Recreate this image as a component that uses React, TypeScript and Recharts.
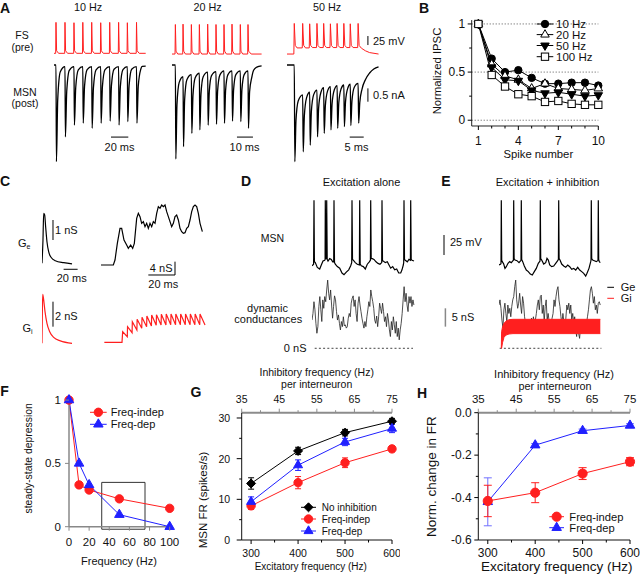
import React from "react";
import {
  LineChart,
  AreaChart,
  Line,
  Area,
  XAxis,
  YAxis,
  ReferenceLine,
  ReferenceArea,
  ErrorBar,
} from "recharts";

const FONT = '"Liberation Sans", Arial, Helvetica, sans-serif';
const RED = "#ff1f1f";
const BLUE = "#2020ff";

// ---------- A: FS -> MSN pairs (time ms, FS mV, MSN nA)
const fsTimes10 = [2.3, 12.7, 23.1, 33.3, 43.6, 54.0, 64.4, 74.7, 84.8, 95.4];
const fsTimes20 = [2.1, 6.9, 12.1, 17.1, 22.3, 27.5, 32.5, 37.5, 42.7, 47.5];
const fsTimes50 = [2.6, 5.6, 8.1, 10.7, 13.1, 15.5, 17.9, 20.3, 22.6, 25.4];
const fsPeak10 = [16, 16, 15, 16, 16, 15, 16, 16, 15, 16];
const fsPeak20 = [10, 11, 10, 10, 11, 10, 10, 11, 10, 10];
const fsPeak50 = [13, 13, 12, 13, 13, 12, 13, 13, 12, 13];
const fsPre10 = [-70, -70, -70, -70, -70, -70, -70, -70, -70, -70];
const fsPre20 = [-72, -72, -72, -72, -72, -72, -72, -72, -72, -72];
const fsPre50 = [-72, -55, -55, -54, -54, -54, -54, -54, -54, -54];
const fsTail10 = [[98.5, -70], [106, -70]];
const fsTail20 = [[49.5, -72], [56, -72]];
const fsTail50 = [[26.6, -56], [28, -63], [29.5, -68], [32.7, -72]];

const ipscMin10 = [-3.62, -2.69, -2.25, -2.18, -2.37, -2.18, -2.1, -2.25, -2.12, -2.18];
const ipscMid10 = [-1.3, -1.0, -0.85, -0.8, -0.85, -0.8, -0.78, -0.82, -0.78, -0.8];
const ipscLate10 = [-0.25, -0.2, -0.18, -0.17, -0.18, -0.17, -0.16, -0.17, -0.16, -0.15];
const ipscRec10 = [-0.06, -0.06, -0.06, -0.06, -0.06, -0.06, -0.06, -0.06, -0.06];
const ipscTail10 = [[102, -0.05], [106, -0.04]];

const ipscMin20 = [-3.52, -3.06, -2.56, -2.43, -2.25, -2.22, -2.18, -2.1, -2.12, -2.37];
const ipscMid20 = [-1.5, -1.3, -1.15, -1.1, -1.0, -0.98, -0.95, -0.93, -0.93, -1.0];
const ipscLate20 = [-0.65, -0.55, -0.48, -0.44, -0.4, -0.38, -0.37, -0.36, -0.36, -0.45];
const ipscRec20 = [-0.44, -0.36, -0.31, -0.27, -0.25, -0.22, -0.22, -0.22, -0.22];
const ipscTail20 = [[51, -0.2], [53, -0.08], [56, -0.03]];

const ipscMin50 = [-3.62, -3.25, -3.0, -2.69, -2.56, -2.43, -2.37, -2.31, -2.27, -2.18];
const ipscMid50 = [-2.1, -1.9, -1.75, -1.6, -1.52, -1.46, -1.42, -1.38, -1.35, -1.4];
const ipscLate50 = [-1.35, -1.22, -1.12, -1.03, -0.97, -0.93, -0.9, -0.87, -0.84, -0.9];
const ipscRec50 = [-1.12, -1.02, -0.94, -0.85, -0.81, -0.77, -0.75, -0.72, -0.69];
const ipscTail50 = [[28, -0.55], [29.5, -0.3], [31, -0.15], [32.7, -0.07]];

// ---------- B: normalized IPSC vs spike number
const spikeNumber = [1, 2, 3, 4, 5, 6, 7, 8, 9, 10];
const ipsc10Hz = [1, 0.64, 0.5, 0.52, 0.44, 0.38, 0.38, 0.39, 0.39, 0.36];
const ipsc20Hz = [1, 0.58, 0.46, 0.42, 0.33, 0.38, 0.33, 0.32, 0.31, 0.33];
const ipsc50Hz = [1, 0.55, 0.42, 0.41, 0.31, 0.28, 0.29, 0.27, 0.25, 0.26];
const ipsc100Hz = [1, 0.47, 0.35, 0.27, 0.25, 0.19, 0.2, 0.17, 0.16, 0.16];

// ---------- C: conductance waveforms (ms, nS)
const geUnitary = [[0, 0], [1.4, 1.17], [2.4, 2.5], [3.8, 2.42], [5.2, 1.83], [7.1, 1.08], [9.5, 0.58], [12.9, 0.3], [19, 0.13], [31, 0.03], [42.9, -0.03]];
const giUnitary = [[0, 0], [0.5, 2.4], [1, 3.92], [2.4, 3.47], [4.3, 2.53], [7.1, 1.6], [11, 0.93], [16.7, 0.48], [26.2, 0.19], [42.9, 0]];
const geSummed = [
  [0, 0], [9.25, 0], [10.5, 1.5], [12.25, 6.5], [14.25, 11], [15.5, 11], [17.25, 7.5], [19.25, 6], [20.5, 5],
  [22.25, 6], [23.75, 5], [25, 6.5], [26.75, 14], [28, 15.5], [29.25, 14.5], [30.5, 12.5], [31.75, 13], [33, 11.5],
  [34.25, 12.5], [35.5, 11], [36.75, 12.5], [38, 11.5], [39.25, 13], [40.5, 12.5], [41.75, 15.5], [43, 17.5],
  [44.25, 17], [45.5, 18], [46.75, 17.5], [48, 18], [49.25, 16], [50.5, 14.5], [51.75, 13], [53, 11.5], [54.25, 12.5],
  [55.5, 14.5], [56.75, 15], [58, 13.5], [59.25, 11], [60.5, 10], [61.75, 9.5], [63, 9.7], [64.25, 11], [65.5, 11.5],
  [66.75, 13.5], [68, 16], [69.25, 17.5], [70.5, 18], [71.75, 17.5], [73, 15.5], [74.25, 12.5], [76, 10],
];
const giSummed = [
  [2.5, 0], [15.75, 0], [16.25, 3.2], [19.7, 1.7], [19.9, 4.7], [23.3, 2.9], [23.5, 6.2], [26.9, 3.7], [27.1, 6.9],
  [30.55, 4.2], [30.75, 7.5], [34.2, 4.7], [34.4, 7.9], [37.8, 4.9], [38, 8.2], [41.4, 5.1], [41.6, 8.3], [45.05, 5.2],
  [45.25, 8.4], [48.7, 5.2], [48.9, 8.5], [52.3, 5.3], [52.5, 8.5], [55.9, 5.3], [56.1, 8.5], [59.55, 5.3], [59.75, 8.5],
  [63.2, 5.3], [63.4, 8.5], [66.8, 5.3], [67, 8.5], [70.4, 5.3], [70.6, 8.5], [74.05, 5.3], [74.25, 8.5], [78, 5.2],
];

// ---------- D / E: dynamic clamp (ms, mV, nS)
const dMsnVm = [
  [0, -71], [1.6, -69], [2, 11], [2.4, -66], [3.3, -67], [5.3, -73], [7.7, -75], [9.3, -70], [11, -65], [12.7, -64],
  [13.1, -63], [13.3, 11], [13.8, -62], [14.4, -62], [14.7, 11], [15.2, -63], [16, -65], [17.7, -62], [19.3, -63],
  [20.7, -66], [21.7, -66], [22, 11], [22.5, -67], [23.3, -69], [25.3, -72], [27.7, -74], [30, -80], [32, -82],
  [34.3, -79], [36.7, -76], [38.7, -71], [39.7, -67], [40, 11], [40.5, -63], [41.3, -64], [43.3, -67], [45.3, -69],
  [47.4, -70], [47.7, 11], [48.2, -69], [49.3, -71], [51.3, -72], [53.3, -75], [55.3, -69], [57.3, -66], [58.4, -64],
  [58.7, 11], [59.2, -62], [60.3, -62], [62, -63], [64, -66], [66, -68], [68, -69], [69.7, -67], [70, 11], [70.5, -65],
  [71.3, -65], [73.3, -67], [75.3, -66], [77, -70], [78.7, -74], [80.7, -72], [82.7, -76], [84.7, -75], [86.7, -80],
  [88.7, -80], [90, -76], [91.3, -70], [91.7, -67], [92, 11], [92.5, -63], [93.3, -64], [95.3, -66], [97, -63],
  [98.4, -64], [98.7, 11], [99.2, -63], [100, -64], [102, -65],
];
const dGe = [
  7.7, 9.5, 12.7, 10.5, 6.8, 4.1, 5.9, 11.4, 14.1, 10.5, 7.3, 13.2, 10.9, 14.1, 12.7, 15.9, 18.6, 15.0, 13.2, 15.9,
  11.8, 8.2, 11.4, 14.3, 13.2, 10.0, 7.7, 9.1, 6.8, 5.0, 7.3, 5.9, 8.6, 6.1, 6.4, 5.5, 5.9, 8.2, 9.5, 8.6,
  12.3, 13.6, 14.3, 11.4, 13.2, 9.5, 7.3, 12.3, 14.1, 11.8, 10.0, 8.2, 6.8, 5.5, 7.3, 5.9, 8.6, 10.5, 12.7, 11.4,
  15.9, 14.1, 12.7, 10.9, 7.7, 6.8, 8.8, 5.9, 8.6, 12.3, 10.9, 9.5, 12.3, 10.0, 7.3, 8.6, 5.9, 9.5, 7.7, 5.0,
  3.2, 7.3, 5.0, 8.6, 6.4, 4.1, 7.3, 3.2, 5.5, 2.3, 5.0, 6.8, 9.5, 13.2, 16.8, 12.7, 15.0, 11.8, 10.0, 14.1,
  12.3, 14.1, 11.4, 13.2, 11.8,
];
const eMsnVm = [
  [0, -70], [1.7, -68.8], [2, -68], [2.3, 11], [2.7, -64], [3.3, -65.8], [4.7, -68.8], [6, -74.2], [7.3, -72.1],
  [9, -67.9], [10.7, -65.8], [12.3, -67.1], [14, -64.6], [14.4, -64], [14.7, 11], [15.1, -62], [16, -63.8], [18, -64.6],
  [20, -67.1], [21.7, -64.6], [22, -64], [22.3, 11], [22.7, -63], [23.7, -65.8], [25.3, -71.3], [27.3, -76.3],
  [29.3, -78.3], [31.3, -81.3], [33.3, -82.5], [35.3, -78.3], [37.3, -74.2], [39.3, -67.9], [41, -65], [41.3, 11],
  [41.7, -62], [42.7, -63.8], [44.7, -68.8], [46.7, -67.1], [48, -61.7], [49.3, -63.8], [50.7, -70], [52.7, -72.1],
  [54.7, -71.3], [56.7, -67.9], [58.7, -64.6], [59.4, -63], [59.7, 11], [60.1, -62], [61, -63.8], [62.7, -68.8],
  [64.7, -71.3], [66.7, -72.9], [68.7, -70], [70.7, -72.1], [72.7, -75.4], [74.7, -74.2], [76.7, -76.3], [78.7, -72.9],
  [80.7, -76.3], [82.7, -78.3], [84.7, -80.4], [86.7, -83.8], [88, -80.4], [90, -74.2], [91.7, -65.8], [92, -64],
  [92.3, 11], [92.7, -62], [93.7, -63.8], [95.3, -64.6], [97.3, -65.8], [98.7, -64.6], [99, -64], [99.3, 11],
  [99.7, -63], [100.3, -65.8], [101.3, -67.1],
];
const eGe = [
  11.8, 13.2, 10.9, 7.7, 5.5, 10.5, 12.3, 9.5, 7.3, 11.8, 9.5, 10.9, 8.6, 11.4, 13.2, 14.1, 16.8, 18.6, 13.2, 10.9,
  12.3, 15.0, 11.8, 9.5, 14.1, 12.3, 8.6, 6.8, 7.7, 5.9, 4.5, 7.3, 5.9, 8.2, 6.8, 8.6, 6.8, 7.7, 9.5, 11.8,
  13.2, 10.5, 14.1, 14.5, 9.5, 11.8, 7.3, 11.4, 13.2, 7.7, 9.5, 7.3, 5.9, 6.8, 8.2, 9.5, 13.2, 11.4, 14.1, 15.9,
  16.8, 13.2, 11.4, 8.6, 6.8, 9.5, 7.3, 5.5, 8.2, 11.8, 10.5, 12.3, 9.5, 11.8, 7.7, 9.5, 6.8, 8.6, 5.0, 3.2,
  6.8, 4.1, 2.7, 5.9, 4.1, 6.8, 4.5, 7.3, 5.0, 6.8, 8.6, 10.5, 13.2, 15.9, 16.8, 15.0, 12.3, 14.1, 10.5, 11.8,
  9.5, 12.3, 12.7, 11.8,
];
// Gi drawn as its fast-oscillation envelope [t, low, high]
const eGiBand = [[2.3, 0, 0], [2.6, 0, 4.5], [3.5, 1.5, 5.8], [5, 3, 6.8], [7, 3.6, 7.4], [10, 3.9, 7.8], [14, 4, 7.9], [101.3, 4, 7.9]];

// ---------- F: steady-state depression
const fFreq = [0, 10, 20, 50, 100];
const fIndep = [1, 0.33, 0.29, 0.22, 0.145];
const fDep = [1, 0.5, 0.33, 0.095, 0];

// ---------- G / H: model firing
const excFreq = [300, 400, 500, 600];
const inhFreq = [37.5, 50, 62.5, 75]; // per interneuron, top axis
const gNoInh = [13.9, 21.9, 26.4, 29.2];
const gNoInhErr = [1.4, 0.9, 0.8, 0.7];
const gIndep = [8.4, 14.1, 19.0, 22.4];
const gIndepErr = [0.9, 1.5, 1.2, 0.7];
const gDep = [9.4, 18.4, 24.1, 27.4];
const gDepErr = [1.2, 1.3, 0.9, 1.0];
const hIndep = [-0.416, -0.377, -0.287, -0.231];
const hIndepErr = [0.074, 0.047, 0.028, 0.019];
const hDep = [-0.42, -0.153, -0.085, -0.06];
const hDepErr = [0.113, 0.008, 0.008, 0.008];
const inhTicks = [35, 40, 45, 50, 55, 60, 65, 70, 75];
const excTicks = [300, 350, 400, 450, 500, 550, 600];

type P = { t: number; v: number };
const pts = (a: number[][]): P[] => a.map(([t, v]) => ({ t, v }));
const sampled = (vals: number[], dt: number): P[] => vals.map((v, i) => ({ t: i * dt, v }));

const fsTrace = (times: number[], peaks: number[], pre: number[], hump: number, tail: number[][], d: number[]) => {
  const out: P[] = [{ t: 0, v: pre[0] }];
  times.forEach((t, i) => {
    out.push({ t: t - d[0], v: pre[i] });
    out.push({ t, v: peaks[i] });
    out.push({ t: t + d[1], v: hump });
    if (i + 1 < times.length) out.push({ t: t + d[2], v: pre[i + 1] });
  });
  return out.concat(pts(tail));
};

const ipscTrace = (times: number[], mins: number[], mids: number[], lates: number[], recs: number[], tail: number[][], d: number[]) => {
  const out: P[] = [{ t: 0, v: 0 }];
  times.forEach((t, i) => {
    out.push({ t, v: i === 0 ? 0 : recs[i - 1] });
    out.push({ t: t + d[0], v: mins[i] });
    out.push({ t: t + d[1], v: mids[i] });
    out.push({ t: t + d[2], v: lates[i] });
  });
  return out.concat(pts(tail));
};

type TLine = { data: P[]; axis: string; color: string; w: number; curve?: "linear" | "monotone" };
type TBar = { axis: string; a: number[]; b: number[]; color?: string; dash?: string; w?: number };

function Trace({ x, y, w, h, xMax, axes, lines, bars = [] }: { x: number; y: number; w: number; h: number; xMax: number; axes: { id: string; domain: number[] }[]; lines: TLine[]; bars?: TBar[] }) {
  return (
    <div style={{ position: "absolute", left: x, top: y }}>
      <LineChart width={w} height={h} margin={{ top: 0, right: 0, bottom: 0, left: 0 }}>
        <XAxis type="number" dataKey="t" domain={[0, xMax]} hide allowDataOverflow />
        {axes.map((a) => (
          <YAxis key={a.id} yAxisId={a.id} type="number" domain={a.domain} hide allowDataOverflow />
        ))}
        {lines.map((l, i) => (
          <Line key={i} data={l.data} dataKey="v" yAxisId={l.axis} type={l.curve ?? "linear"} stroke={l.color} strokeWidth={l.w} dot={false} activeDot={false} isAnimationActive={false} />
        ))}
        {bars.map((b, i) => (
          <ReferenceLine key={`bar${i}`} yAxisId={b.axis} segment={[{ x: b.a[0], y: b.a[1] }, { x: b.b[0], y: b.b[1] }]} stroke={b.color ?? "#000"} strokeWidth={b.w ?? 1} strokeDasharray={b.dash} ifOverflow="visible" />
        ))}
      </LineChart>
    </div>
  );
}

// ---------- ticks, markers
type TickCfg = { major: number[]; len?: number; minor?: number; off: number; size: number; fmt?: (v: number) => string; stroke?: string };
const near = (a: number[], v: number) => a.some((m) => Math.abs(m - v) < 1e-6);
const makeTick = (side: "bottom" | "top" | "left", c: TickCfg) => (p: any) => {
  const v = Number(p.payload.value);
  const big = near(c.major, v);
  const L = big ? c.len ?? 4 : c.minor ?? 2.5;
  const s = c.stroke ?? "#000";
  const label = c.fmt ? c.fmt(v) : String(v);
  const txt = { fontSize: c.size, fontFamily: FONT, fill: "#111", dominantBaseline: "central" as const };
  if (side === "left") {
    return (
      <g>
        <line x1={p.x} y1={p.y} x2={p.x - L} y2={p.y} stroke={s} />
        {big && <text x={p.x - c.off} y={p.y} textAnchor="end" {...txt}>{label}</text>}
      </g>
    );
  }
  const dir = side === "bottom" ? 1 : -1;
  return (
    <g>
      <line x1={p.x} y1={p.y} x2={p.x} y2={p.y + dir * L} stroke={s} />
      {big && <text x={p.x} y={p.y + dir * c.off} textAnchor="middle" {...txt}>{label}</text>}
    </g>
  );
};

type Shape = (x: number, y: number) => React.ReactElement;
const circle = (r: number, fill: string, stroke = fill): Shape => (x, y) => <circle cx={x} cy={y} r={r} fill={fill} stroke={stroke} strokeWidth={1} />;
const triangle = (w: number, fill: string, stroke: string, down = false): Shape => (x, y) => {
  const h = w * 0.866;
  const s = down ? -1 : 1;
  return <polygon points={`${x},${y - (s * 2 * h) / 3} ${x - w / 2},${y + (s * h) / 3} ${x + w / 2},${y + (s * h) / 3}`} fill={fill} stroke={stroke} strokeWidth={1} strokeLinejoin="round" />;
};
const square = (s: number, fill: string, stroke: string): Shape => (x, y) => <rect x={x - s / 2} y={y - s / 2} width={s} height={s} fill={fill} stroke={stroke} strokeWidth={1} />;
const diamond = (s: number, fill: string): Shape => (x, y) => <polygon points={`${x},${y - s} ${x + s},${y} ${x},${y + s} ${x - s},${y}`} fill={fill} stroke={fill} />;
const dotOf = (shape: Shape) => (p: any) => <g key={`dot-${p.index}`}>{p.cx == null || p.cy == null ? null : shape(p.cx, p.cy)}</g>;

const T = ({ x, y, children, size = 11, anchor = "start", rotate, bold }: { x: number; y: number; children: React.ReactNode; size?: number; anchor?: "start" | "middle" | "end"; rotate?: number; bold?: boolean }) => (
  <text x={x} y={y} fontSize={size} textAnchor={anchor} dominantBaseline="central" fontFamily={FONT} fontWeight={bold ? 700 : 400} fill="#111" transform={rotate ? `rotate(${rotate} ${x} ${y})` : undefined}>
    {children}
  </text>
);

const LegendRow = ({ x1, x2, y, color, shape, label, tx, size }: { x1: number; x2: number; y: number; color: string; shape: Shape; label: string; tx: number; size: number }) => (
  <g>
    <line x1={x1} x2={x2} y1={y} y2={y} stroke={color} strokeWidth={1} />
    {shape((x1 + x2) / 2, y)}
    <T x={tx} y={y} size={size}>{label}</T>
  </g>
);

// shared vertical mapping for panel A columns
const FS_AXIS = { id: "fs", domain: [-388.6, 28.1] };
const MSN_AXIS = { id: "msn", domain: [-3.858, 1.76] };

export default function App() {
  const bData = spikeNumber.map((n, i) => ({ n, f10: ipsc10Hz[i], f20: ipsc20Hz[i], f50: ipsc50Hz[i], f100: ipsc100Hz[i] }));
  const fData = fFreq.map((f, i) => ({ f, indep: fIndep[i], dep: fDep[i] }));
  const gData = excFreq.map((x, i) => ({ x, inh: inhFreq[i], none: gNoInh[i], noneErr: gNoInhErr[i], indep: gIndep[i], indepErr: gIndepErr[i], dep: gDep[i], depErr: gDepErr[i] }));
  const hData = excFreq.map((x, i) => ({ x, inh: inhFreq[i], indep: hIndep[i], indepErr: hIndepErr[i], dep: hDep[i], depErr: hDepErr[i] }));
  const giBandData = eGiBand.map(([t, lo, hi]) => ({ t, band: [lo, hi] }));

  return (
    <div style={{ position: "absolute", left: 0, top: 0, width: 640, height: 574, background: "#fff", overflow: "hidden", fontFamily: FONT }}>
      {/* A */}
      <Trace x={54} y={18} w={92} h={150} xMax={106.36} axes={[FS_AXIS, MSN_AXIS]}
        lines={[
          { data: fsTrace(fsTimes10, fsPeak10, fsPre10, -63, fsTail10, [0.35, 0.7, 3]), axis: "fs", color: RED, w: 1 },
          { data: ipscTrace(fsTimes10, ipscMin10, ipscMid10, ipscLate10, ipscRec10, ipscTail10, [0.5, 2, 5]), axis: "msn", color: "#000", w: 1.3, curve: "monotone" },
        ]}
        bars={[{ axis: "msn", a: [65.9, -2.7], b: [85.9, -2.7] }]} />
      <Trace x={171.7} y={18} w={90} h={150} xMax={56.25} axes={[FS_AXIS, MSN_AXIS]}
        lines={[
          { data: fsTrace(fsTimes20, fsPeak20, fsPre20, -64, fsTail20, [0.2, 0.4, 1.5]), axis: "fs", color: RED, w: 1 },
          { data: ipscTrace(fsTimes20, ipscMin20, ipscMid20, ipscLate20, ipscRec20, ipscTail20, [0.3, 1, 2.4]), axis: "msn", color: "#000", w: 1.3, curve: "monotone" },
        ]}
        bars={[{ axis: "msn", a: [40.6, -2.7], b: [50.6, -2.7] }]} />
      <Trace x={286.7} y={18} w={92} h={150} xMax={32.86} axes={[FS_AXIS, MSN_AXIS]}
        lines={[
          { data: fsTrace(fsTimes50, fsPeak50, fsPre50, -48, fsTail50, [0.15, 0.35, 1.0]), axis: "fs", color: RED, w: 1 },
          { data: ipscTrace(fsTimes50, ipscMin50, ipscMid50, ipscLate50, ipscRec50, ipscTail50, [0.2, 0.6, 1.4]), axis: "msn", color: "#000", w: 1.3, curve: "monotone" },
        ]}
        bars={[
          { axis: "msn", a: [22.4, -2.7], b: [27.4, -2.7] },
          { axis: "fs", a: [28.9, -47], b: [28.9, -22] },
          { axis: "msn", a: [28.9, -1.375], b: [28.9, -0.875] },
        ]} />

      {/* B */}
      <div style={{ position: "absolute", left: 420, top: 0 }}>
        <LineChart width={198.3} height={158} data={bData} margin={{ top: 20.1, right: 20, bottom: 12, left: 21.7 }}>
          <XAxis type="number" dataKey="n" domain={[0.5, 10]} ticks={spikeNumber} interval={0} tickSize={0} tickMargin={0} tickLine={false} height={20}
            axisLine={{ stroke: "#222" }} tick={makeTick("bottom", { major: [1, 4, 7, 10], off: 15.5, size: 12 })} />
          <YAxis type="number" domain={[-0.06, 1.04]} ticks={[0, 0.25, 0.5, 0.75, 1]} interval={0} tickSize={0} tickMargin={0} tickLine={false} width={30}
            axisLine={{ stroke: "#222" }} tick={makeTick("left", { major: [0, 0.5, 1], off: 6.5, size: 12 })} />
          {[0, 0.5, 1].map((v) => (
            <ReferenceLine key={v} y={v} stroke="#555" strokeDasharray="1 2" />
          ))}
          <Line dataKey="f10" stroke="#000" strokeWidth={1} dot={dotOf(circle(3.7, "#000"))} activeDot={false} isAnimationActive={false} />
          <Line dataKey="f20" stroke="#000" strokeWidth={1} dot={dotOf(triangle(8.5, "#fff", "#000"))} activeDot={false} isAnimationActive={false} />
          <Line dataKey="f50" stroke="#000" strokeWidth={1} dot={dotOf(triangle(8.5, "#000", "#000", true))} activeDot={false} isAnimationActive={false} />
          <Line dataKey="f100" stroke="#000" strokeWidth={1} dot={dotOf(square(7.3, "#fff", "#000"))} activeDot={false} isAnimationActive={false} />
        </LineChart>
      </div>

      {/* C */}
      <Trace x={41.7} y={205} w={36.4} h={80} xMax={52} axes={[{ id: "ns", domain: [-1.085, 2.915] }]}
        lines={[{ data: pts(geUnitary), axis: "ns", color: "#000", w: 1.2, curve: "monotone" }]}
        bars={[{ axis: "ns", a: [15.7, 1.165], b: [15.7, 2.165] }, { axis: "ns", a: [30.9, -0.3], b: [50.9, -0.3] }]} />
      <Trace x={41.7} y={290} w={36.4} h={60} xMax={52} axes={[{ id: "ns", domain: [-0.536, 4.264] }]}
        lines={[{ data: pts(giUnitary), axis: "ns", color: RED, w: 1.2, curve: "monotone" }]}
        bars={[{ axis: "ns", a: [15.7, 1.33], b: [15.7, 3.33] }]} />
      <Trace x={101} y={200} w={106.7} h={80} xMax={80} axes={[{ id: "ns", domain: [-4.5, 19.5] }]}
        lines={[{ data: pts(geSummed), axis: "ns", color: "#000", w: 1.2 }]}
        bars={[{ axis: "ns", a: [55.5, -3], b: [55.5, 1] }, { axis: "ns", a: [35.5, -3], b: [55.5, -3] }]} />
      <Trace x={101} y={305} w={106.7} h={45} xMax={80} axes={[{ id: "ns", domain: [-2.31, 11.2] }]}
        lines={[{ data: pts(giSummed), axis: "ns", color: RED, w: 1.2 }]} />

      {/* D */}
      <Trace x={312.3} y={195} w={140} h={160} xMax={140} axes={[{ id: "mv", domain: [-182.5, 17.5] }, { id: "ns", domain: [-1.83, 41.8] }]}
        lines={[
          { data: pts(dMsnVm), axis: "mv", color: "#000", w: 1.2 },
          { data: sampled(dGe, 0.98), axis: "ns", color: "#222", w: 0.8 },
        ]}
        bars={[
          { axis: "ns", a: [2.7, 0], b: [101, 0], dash: "2 2.2", color: "#444" },
          { axis: "mv", a: [132, -57.5], b: [132, -32.5] },
          { axis: "ns", a: [133.4, 5.9], b: [133.4, 10.9], color: "#888", w: 1.5 },
        ]} />

      {/* E */}
      <Trace x={499.3} y={195} w={104} h={160} xMax={104} axes={[{ id: "mv", domain: [-182.5, 17.5] }, { id: "ns", domain: [-1.83, 41.8] }]}
        lines={[
          { data: pts(eMsnVm), axis: "mv", color: "#000", w: 1.2 },
          { data: sampled(eGe, 0.983), axis: "ns", color: "#222", w: 0.8 },
        ]}
        bars={[{ axis: "ns", a: [0.7, 0], b: [102.4, 0], dash: "2 2.2", color: "#444" }]} />
      <div style={{ position: "absolute", left: 499.3, top: 195 }}>
        <AreaChart width={104} height={160} margin={{ top: 0, right: 0, bottom: 0, left: 0 }}>
          <XAxis type="number" dataKey="t" domain={[0, 104]} hide allowDataOverflow />
          <YAxis yAxisId="ns" type="number" domain={[-1.83, 41.8]} hide allowDataOverflow />
          <Area data={giBandData} dataKey="band" yAxisId="ns" type="linear" stroke={RED} strokeWidth={1} fill={RED} fillOpacity={1} dot={false} activeDot={false} isAnimationActive={false} />
        </AreaChart>
      </div>

      {/* F */}
      <div style={{ position: "absolute", left: 0, top: 380 }}>
        <LineChart width={183} height={178} data={fData} margin={{ top: 15, right: 10, bottom: 11.3, left: 39 }}>
          <XAxis type="number" dataKey="f" domain={[0, 103.3]} ticks={[0, 20, 40, 60, 80, 100]} interval={0} tickSize={0} tickMargin={0} tickLine={false} height={20}
            axisLine={{ stroke: "#888", strokeWidth: 1.5 }} tick={makeTick("bottom", { major: [0, 20, 40, 60, 80, 100], off: 15.5, size: 11.5, stroke: "#888" })} />
          <YAxis type="number" domain={[0, 1.04]} ticks={[0, 0.5, 1]} interval={0} tickSize={0} tickMargin={0} tickLine={false} width={30}
            axisLine={{ stroke: "#888", strokeWidth: 1.5 }} tick={makeTick("left", { major: [0, 0.5, 1], off: 8, size: 11.5, stroke: "#888" })} />
          <ReferenceArea x1={32.5} x2={75.5} y1={-0.02} y2={0.35} fill="none" fillOpacity={0} stroke="#333" strokeWidth={1} ifOverflow="visible" />
          <Line dataKey="indep" stroke={RED} strokeWidth={1} dot={dotOf(circle(4.2, RED))} activeDot={false} isAnimationActive={false} />
          <Line dataKey="dep" stroke={BLUE} strokeWidth={1} dot={dotOf(triangle(9.5, BLUE, BLUE))} activeDot={false} isAnimationActive={false} />
        </LineChart>
      </div>

      {/* G */}
      <div style={{ position: "absolute", left: 190, top: 370 }}>
        <LineChart width={210} height={196} data={gData} margin={{ top: 22.7, right: 8, bottom: 6, left: 21.7 }}>
          <XAxis type="number" dataKey="x" domain={[280, 600]} ticks={excTicks} interval={0} tickSize={0} tickMargin={0} tickLine={false} height={20}
            axisLine={{ stroke: "#111" }} tick={makeTick("bottom", { major: [300, 400, 500, 600], off: 13.3, size: 10.5 })} />
          <XAxis xAxisId="top" orientation="top" type="number" dataKey="inh" domain={[35, 75]} ticks={inhTicks} interval={0} tickSize={0} tickMargin={0} tickLine={false} height={20}
            axisLine={{ stroke: "#8c8c8c", strokeWidth: 2 }} tick={makeTick("top", { major: [35, 45, 55, 65, 75], off: 13.4, size: 10.5, stroke: "#8c8c8c" })} />
          <YAxis type="number" domain={[0, 31.3]} ticks={[0, 5, 10, 15, 20, 25, 30]} interval={0} tickSize={0} tickMargin={0} tickLine={false} width={30}
            axisLine={{ stroke: "#111" }} tick={makeTick("left", { major: [0, 10, 20, 30], off: 11.5, size: 10.5, len: 5 })} />
          {/* invisible series that binds the per-interneuron axis */}
          <Line xAxisId="top" dataKey="none" stroke="none" dot={false} activeDot={false} isAnimationActive={false} legendType="none" />
          <Line dataKey="none" stroke="#000" strokeWidth={1} dot={dotOf(diamond(4.5, "#000"))} activeDot={false} isAnimationActive={false}>
            <ErrorBar dataKey="noneErr" width={3} stroke="#000" strokeWidth={1} direction="y" />
          </Line>
          <Line dataKey="indep" stroke={RED} strokeWidth={1} dot={dotOf(circle(4.2, RED))} activeDot={false} isAnimationActive={false}>
            <ErrorBar dataKey="indepErr" width={3} stroke={RED} strokeWidth={1} direction="y" />
          </Line>
          <Line dataKey="dep" stroke={BLUE} strokeWidth={1} dot={dotOf(triangle(9, BLUE, BLUE))} activeDot={false} isAnimationActive={false}>
            <ErrorBar dataKey="depErr" width={3} stroke={BLUE} strokeWidth={1} direction="y" />
          </Line>
        </LineChart>
      </div>

      {/* H */}
      <div style={{ position: "absolute", left: 410, top: 370 }}>
        <LineChart width={230} height={196} data={hData} margin={{ top: 22.7, right: 10, bottom: 6, left: 28.3 }}>
          <XAxis type="number" dataKey="x" domain={[280, 600]} ticks={excTicks} interval={0} tickSize={0} tickMargin={0} tickLine={false} height={20}
            axisLine={{ stroke: "#111" }} tick={makeTick("bottom", { major: [300, 400, 500, 600], off: 13.3, size: 12 })} />
          <XAxis xAxisId="top" orientation="top" type="number" dataKey="inh" domain={[35, 75]} ticks={inhTicks} interval={0} tickSize={0} tickMargin={0} tickLine={false} height={20}
            axisLine={{ stroke: "#8c8c8c", strokeWidth: 2 }} tick={makeTick("top", { major: [35, 45, 55, 65, 75], off: 13.4, size: 11.5, stroke: "#8c8c8c" })} />
          <YAxis type="number" domain={[-0.6, 0]} ticks={[-0.6, -0.5, -0.4, -0.3, -0.2, -0.1, 0]} interval={0} tickSize={0} tickMargin={0} tickLine={false} width={40}
            axisLine={{ stroke: "#111" }} tick={makeTick("left", { major: [-0.6, -0.4, -0.2, 0], off: 6.6, size: 12, fmt: (v) => (Math.abs(v) < 1e-9 ? "0.0" : v.toFixed(1)) })} />
          <Line xAxisId="top" dataKey="dep" stroke="none" dot={false} activeDot={false} isAnimationActive={false} legendType="none" />
          <Line dataKey="dep" stroke={BLUE} strokeWidth={1} dot={dotOf(triangle(9.5, BLUE, BLUE))} activeDot={false} isAnimationActive={false}>
            <ErrorBar dataKey="depErr" width={4} stroke="#7070ff" strokeWidth={1} direction="y" />
          </Line>
          <Line dataKey="indep" stroke={RED} strokeWidth={1} dot={dotOf(circle(4.6, RED))} activeDot={false} isAnimationActive={false}>
            <ErrorBar dataKey="indepErr" width={4} stroke={RED} strokeWidth={1} direction="y" />
          </Line>
        </LineChart>
      </div>

      {/* text layer */}
      <svg width={640} height={574} style={{ position: "absolute", left: 0, top: 0, pointerEvents: "none" }}>
        <T x={5} y={7.5} size={14} anchor="middle" bold>A</T>
        <T x={424} y={7.5} size={14} anchor="middle" bold>B</T>
        <T x={5} y={181} size={14} anchor="middle" bold>C</T>
        <T x={246} y={181} size={14} anchor="middle" bold>D</T>
        <T x={446} y={181} size={14} anchor="middle" bold>E</T>
        <T x={4.5} y={391} size={14} anchor="middle" bold>F</T>
        <T x={196} y={392} size={14} anchor="middle" bold>G</T>
        <T x={422} y={393} size={14} anchor="middle" bold>H</T>

        <T x={88} y={6.5} anchor="middle" size={10.8}>10 Hz</T>
        <T x={207.5} y={6.5} anchor="middle" size={10.8}>20 Hz</T>
        <T x={327} y={6.5} anchor="middle" size={10.8}>50 Hz</T>
        <T x={22} y={34.5} anchor="middle" size={10.5}>FS</T>
        <T x={22.5} y={47} anchor="middle" size={10.5}>(pre)</T>
        <T x={25} y={91.5} anchor="middle" size={10.5}>MSN</T>
        <T x={25} y={102.5} anchor="middle" size={10.5}>(post)</T>
        <T x={373} y={40.7}>25 mV</T>
        <T x={373} y={95}>0.5 nA</T>
        <T x={119.5} y={147} anchor="middle">20 ms</T>
        <T x={244.5} y={147} anchor="middle">10 ms</T>
        <T x={356.5} y={147} anchor="middle">5 ms</T>

        <T x={437} y={71} anchor="middle" size={11.3} rotate={-90}>Normalized IPSC</T>
        <T x={538.3} y={154} anchor="middle" size={11.3}>Spike number</T>
        <LegendRow x1={536.7} x2={553.3} y={24} color="#000" shape={circle(3.7, "#000")} label="10 Hz" tx={556} size={11.5} />
        <LegendRow x1={536.7} x2={553.3} y={34.6} color="#000" shape={triangle(8.5, "#fff", "#000")} label="20 Hz" tx={556} size={11.5} />
        <LegendRow x1={536.7} x2={553.3} y={45.5} color="#000" shape={triangle(8.5, "#000", "#000", true)} label="50 Hz" tx={556} size={11.5} />
        <LegendRow x1={536.7} x2={553.3} y={56.7} color="#000" shape={square(7.3, "#fff", "#000")} label="100 Hz" tx={556} size={11.5} />

        <text x={18} y={243.3} fontSize={11} fontFamily={FONT} dominantBaseline="central" fill="#111">G<tspan fontSize={7} dy={3}>e</tspan></text>
        <text x={22.5} y={328.3} fontSize={11} fontFamily={FONT} dominantBaseline="central" fill="#111">G<tspan fontSize={7} dy={3}>i</tspan></text>
        <T x={55} y={230}>1 nS</T>
        <T x={55} y={315.7}>2 nS</T>
        <T x={71.7} y={278.3} anchor="middle">20 ms</T>
        <T x={172.5} y={268.3} anchor="end">4 nS</T>
        <T x={163.3} y={284.3} anchor="middle">20 ms</T>

        <T x={361.5} y={182} anchor="middle">Excitation alone</T>
        <T x={547.5} y={182} anchor="middle">Excitation + inhibition</T>
        <T x={272.5} y={238.3} anchor="middle" size={10.5}>MSN</T>
        <T x={267.5} y={308.3} anchor="middle">dynamic</T>
        <T x={268.3} y={319.3} anchor="middle">conductances</T>
        <T x={306.5} y={348.3} anchor="end">0 nS</T>
        <T x={450} y={242.3}>25 mV</T>
        <T x={451.7} y={316.7}>5 nS</T>
        <line x1={607.3} x2={614} y1={287.3} y2={287.3} stroke="#000" strokeWidth={1} />
        <line x1={607.3} x2={614} y1={298.3} y2={298.3} stroke={RED} strokeWidth={1} />
        <T x={620.7} y={287.3}>Ge</T>
        <T x={620.7} y={298.3}>Gi</T>

        <T x={28.3} y={458.3} anchor="middle" size={10.4} rotate={-90}>steady-state depression</T>
        <T x={119} y={560.7} anchor="middle">Frequency (Hz)</T>
        <LegendRow x1={90} x2={106.7} y={412.3} color={RED} shape={circle(4.2, RED)} label="Freq-indep" tx={110.7} size={11} />
        <LegendRow x1={90} x2={106.7} y={424.3} color={BLUE} shape={triangle(9.5, BLUE, BLUE)} label="Freq-dep" tx={110.7} size={11} />

        <T x={316.7} y={372.3} anchor="middle" size={10.5}>Inhibitory frequency (Hz)</T>
        <T x={316.7} y={384} anchor="middle" size={10.5}>per interneuron</T>
        <T x={554} y={374} anchor="middle" size={11}>Inhibitory frequency (Hz)</T>
        <T x={555} y={385.8} anchor="middle" size={10.8}>per interneuron</T>
        <T x={203.3} y={500} anchor="middle" size={11.5} rotate={-90}>MSN FR (spikes/s)</T>
        <T x={310.8} y={566.7} anchor="middle" size={10}>Excitatory frequency (Hz)</T>
        <LegendRow x1={301} x2={316} y={507.3} color="#000" shape={diamond(4.5, "#000")} label="No inhibition" tx={321.7} size={10} />
        <LegendRow x1={301} x2={316} y={519} color={RED} shape={circle(4.2, RED)} label="Freq-indep" tx={321.7} size={10} />
        <LegendRow x1={301} x2={316} y={531} color={BLUE} shape={triangle(9, BLUE, BLUE)} label="Freq-dep" tx={321.7} size={10} />

        <T x={431.7} y={476.7} anchor="middle" size={13.5} rotate={-90}>Norm. change in FR</T>
        <T x={556.7} y={566.7} anchor="middle" size={13.5}>Excitatory frequency (Hz)</T>
        <LegendRow x1={549.3} x2={564} y={516.7} color={RED} shape={circle(4.6, RED)} label="Freq-indep" tx={569.3} size={11.2} />
        <LegendRow x1={549.3} x2={564} y={527.7} color={BLUE} shape={triangle(9.5, BLUE, BLUE)} label="Freq-dep" tx={569.3} size={11.2} />
      </svg>
    </div>
  );
}
